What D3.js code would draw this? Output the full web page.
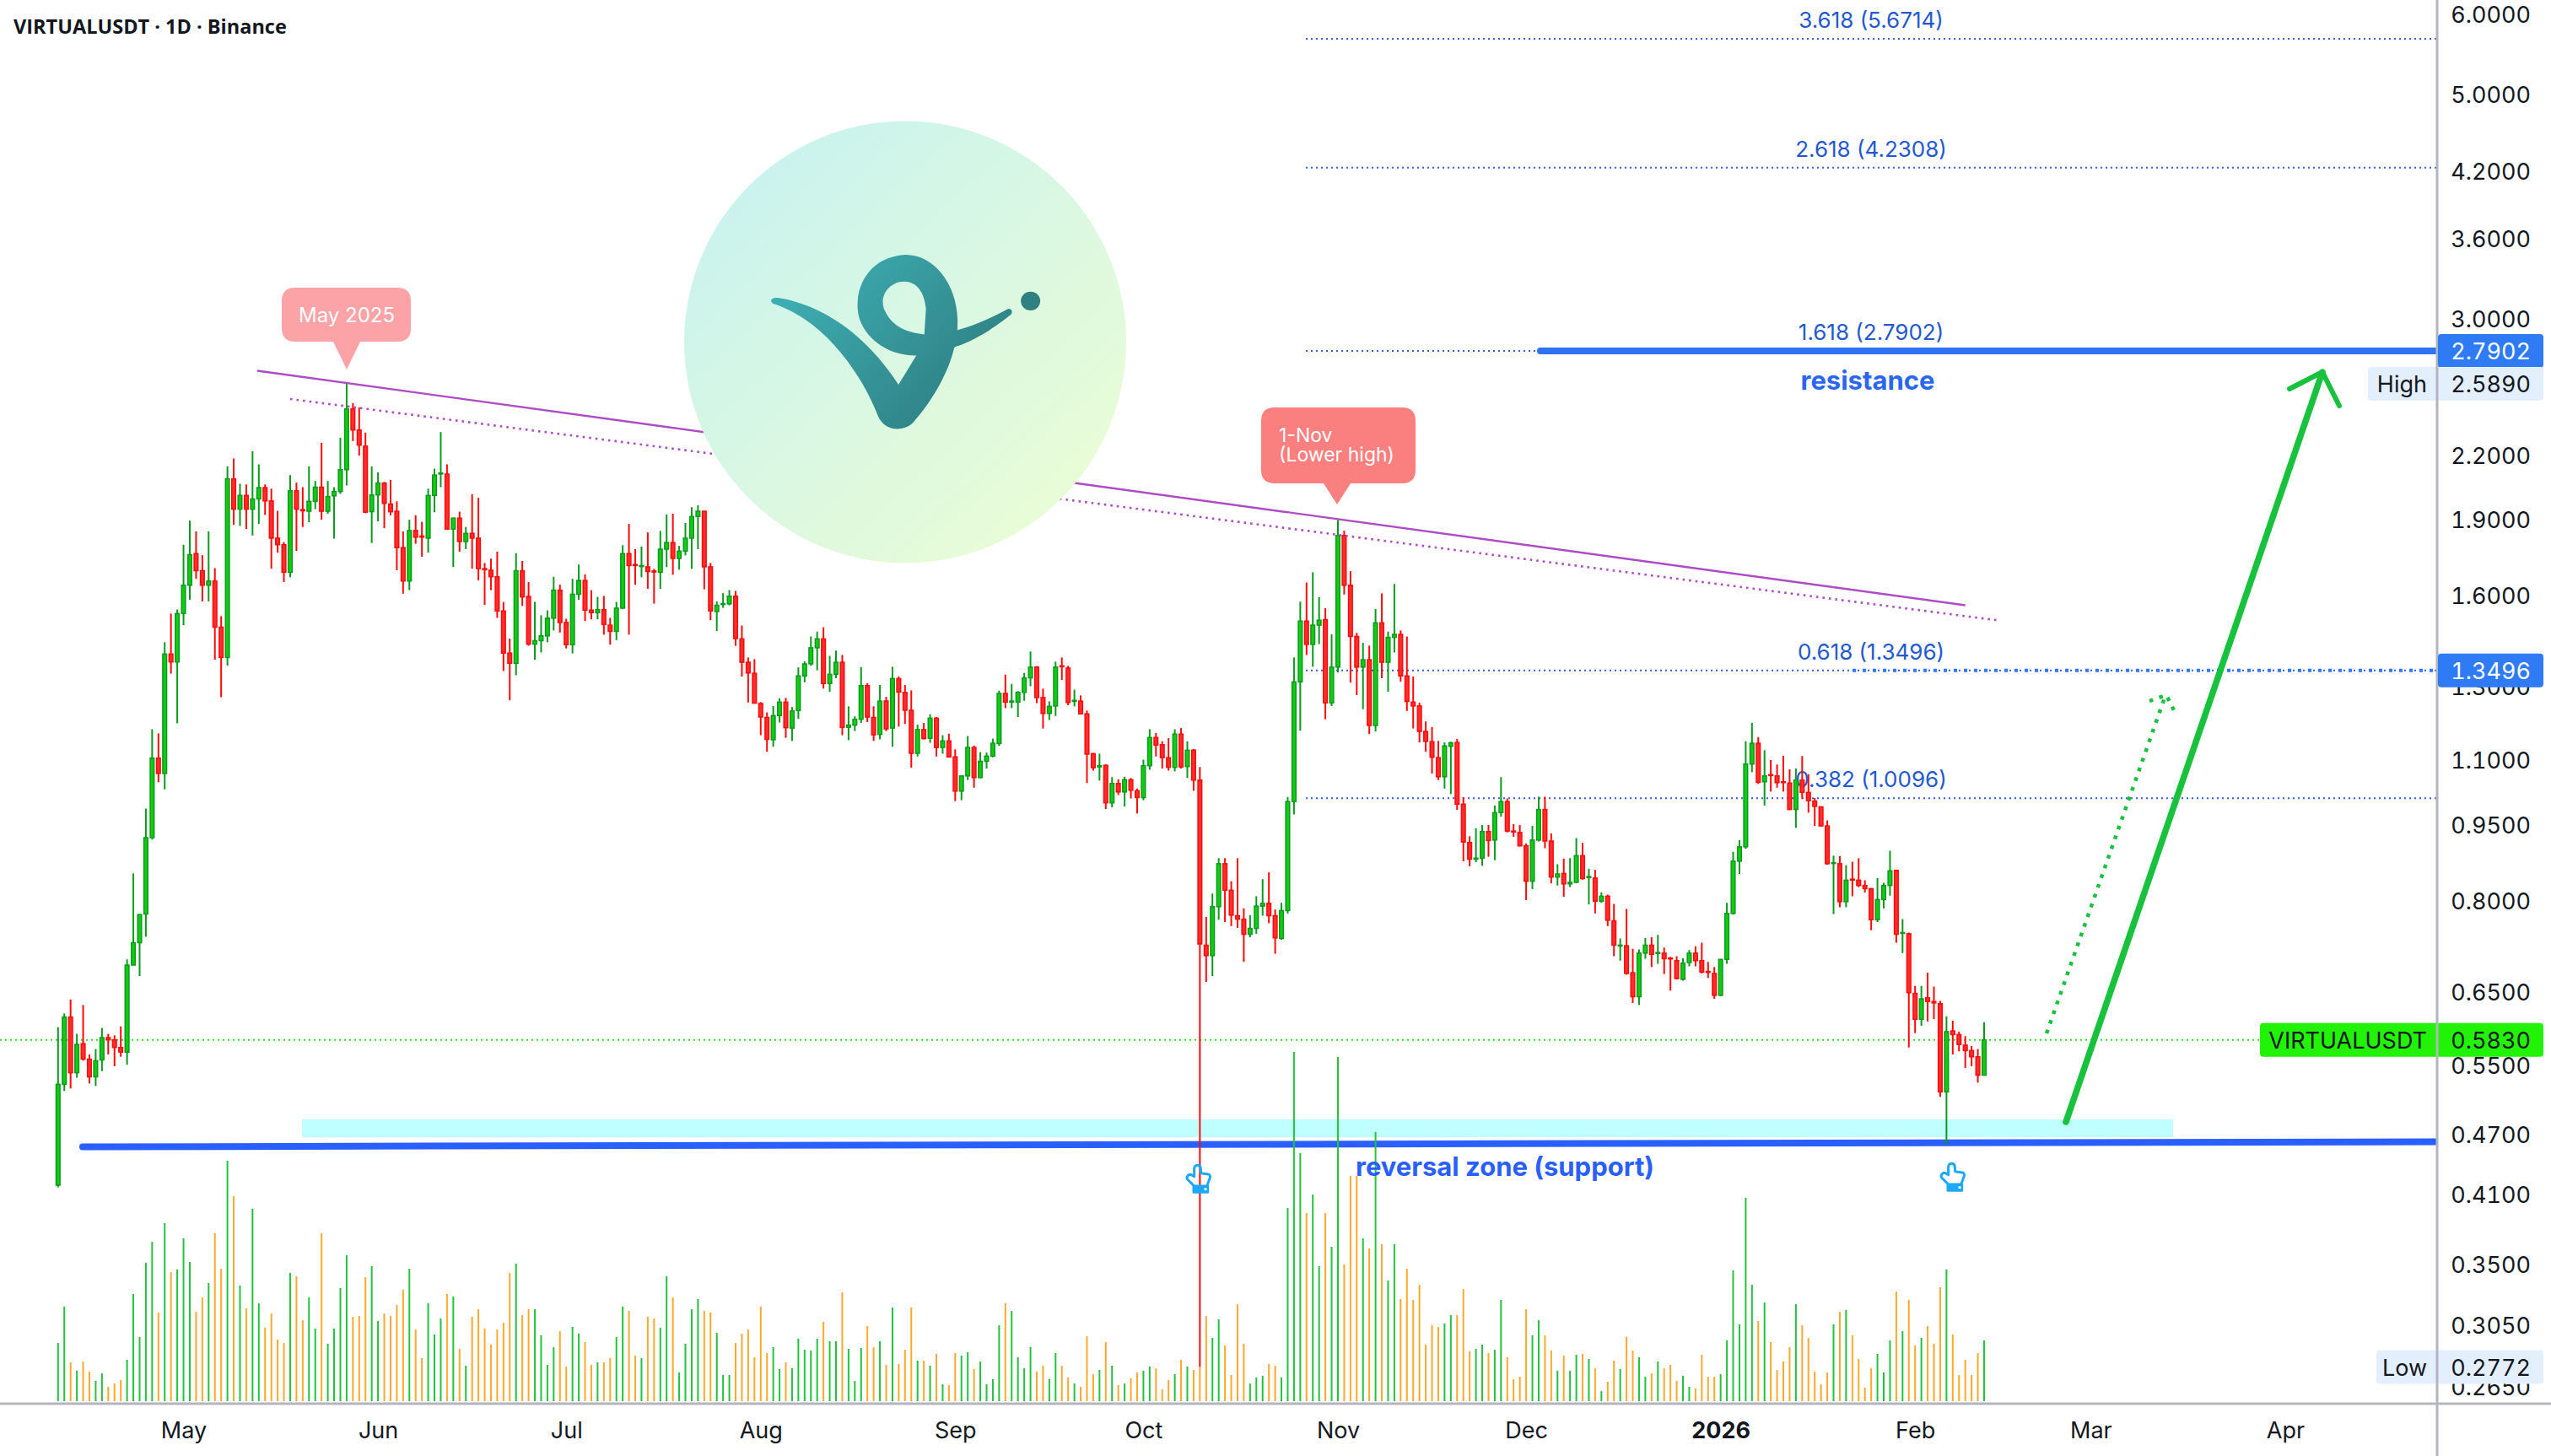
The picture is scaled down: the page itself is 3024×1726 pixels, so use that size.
<!DOCTYPE html>
<html><head><meta charset="utf-8">
<style>html,body{margin:0;padding:0;background:#fff}svg{display:block}text{font-family:Inter,"Liberation Sans",sans-serif}</style>
<script src="https://cdn.jsdelivr.net/npm/d3@7"></script></head><body><svg id="c" width="3024" height="1726"></svg>
<script>
const title = "VIRTUALUSDT · 1D · Binance";
const firstDay = "2025-04-11";
const lastDay = "2026-02-12";
const directions = [
"ggrgrrggrr","rgggggrgrg","ggrrgrrgrg","rggrrrrgrr","ggrggggrrr","ggrrrrgrrg","ggrgrgrrrr","rrrgrrgggg","rrggrrgrrg","grrgrrggrg",
"gggrrgggrr","rrrrggrggg","ggrggrgggr","rgrgrrrgrg","rgrrggrggg","grggggrrgg","rrgrrrgrgr","grrggrrrgr","grrrggrrrr","gggrrggggr",
"ggrggrrrgr","grggrrrrrr","rggrrrggrg","grrrrggrrg","rggrgrgrrg","rrggrgrrrg","grrrrggggg","grgrrrrgrr","rrrgrgrrrr","gggrgrrgrr","rgrrrrrg"].join("");
const highs = [.600,.619,.639,.591,.631,.564,.571,.599,.591,.589,
.601,.700,.851,.776,.986,1.181,1.170,1.439,1.536,1.550,
1.796,1.897,1.851,1.754,1.851,1.703,1.527,2.146,2.185,2.063,
2.060,2.221,2.156,2.060,2.040,1.940,1.807,2.104,2.068,2.047,
2.146,2.076,2.264,2.076,2.047,2.290,2.589,2.478,2.454,2.317,
2.146,2.117,2.071,2.081,1.982,1.851,1.901,1.920,1.892,2.040,
2.135,2.320,2.156,1.910,1.936,1.870,2.014,1.998,1.723,1.740,
1.768,1.577,1.451,1.762,1.731,1.650,1.577,1.530,1.547,1.670,
1.640,1.518,1.662,1.717,1.679,1.620,1.595,1.599,1.521,1.577,
1.794,1.883,1.778,1.789,1.847,1.700,1.853,1.924,1.927,1.791,
1.887,1.956,1.964,1.938,1.723,1.579,1.609,1.620,1.617,1.495,
1.390,1.385,1.256,1.227,1.245,1.267,1.268,1.242,1.359,1.378,
1.458,1.474,1.489,1.395,1.412,1.398,1.244,1.216,1.360,1.311,
1.244,1.306,1.271,1.361,1.331,1.306,1.290,1.193,1.198,1.222,
1.214,1.165,1.169,1.128,1.062,1.163,1.138,1.121,1.120,1.156,
1.289,1.337,1.309,1.288,1.342,1.409,1.363,1.295,1.258,1.377,
1.390,1.364,1.292,1.275,1.232,1.119,1.117,1.090,1.059,1.054,
1.060,1.057,1.032,1.102,1.181,1.171,1.149,1.157,1.181,1.184,
1.149,1.129,1.084,.771,.813,.881,.881,.836,.881,.786,
.774,.808,.840,.853,.784,.796,1.012,1.390,1.578,1.648,
1.687,1.594,1.555,1.465,1.900,1.854,1.691,1.470,1.437,1.428,
1.552,1.608,1.474,1.643,1.478,1.458,1.331,1.254,1.202,1.187,
1.150,1.146,1.148,1.155,1.012,.926,.943,.950,.950,.993,
1.059,1.009,.952,.950,.911,.948,1.013,1.013,.932,.869,
.880,.881,.922,.912,.860,.858,.815,.811,.794,.734,
.785,.717,.716,.735,.736,.740,.719,.704,.705,.702,
.715,.721,.727,.696,.688,.700,.796,.894,.918,1.149,
1.198,1.160,1.126,1.101,1.090,1.112,1.078,1.080,1.111,1.066,
1.010,.990,.960,.886,.885,.867,.874,.881,.838,.823,
.842,.833,.896,.858,.767,.744,.659,.659,.679,.658,
.637,.615,.609,.594,.588,.575,.571,.607];
const bodyTops = [.527,.614,.614,.577,.578,.558,.556,.586,.586,.583,
.573,.691,.727,.775,.923,1.106,1.106,1.401,1.401,1.536,
1.638,1.756,1.760,1.693,1.654,1.654,1.489,2.086,2.086,2.009,
2.009,1.993,2.045,2.045,1.984,1.823,1.796,2.030,2.030,1.945,
1.982,2.047,2.047,2.004,2.027,2.130,2.445,2.445,2.331,2.247,
2.011,2.066,2.066,1.970,1.938,1.784,1.855,1.855,1.832,2.009,
2.104,2.114,2.109,1.908,1.908,1.843,1.843,1.823,1.701,1.695,
1.670,1.545,1.404,1.693,1.693,1.597,1.444,1.460,1.520,1.620,
1.620,1.505,1.605,1.656,1.656,1.548,1.550,1.550,1.496,1.555,
1.760,1.760,1.717,1.713,1.708,1.692,1.778,1.805,1.805,1.770,
1.823,1.915,1.938,1.938,1.708,1.565,1.571,1.598,1.598,1.450,
1.375,1.341,1.252,1.213,1.218,1.256,1.256,1.231,1.333,1.370,
1.421,1.450,1.450,1.338,1.375,1.375,1.192,1.208,1.304,1.304,
1.213,1.259,1.259,1.325,1.325,1.284,1.233,1.180,1.180,1.211,
1.211,1.150,1.150,1.109,1.062,1.133,1.133,1.098,1.111,1.144,
1.281,1.281,1.259,1.284,1.327,1.360,1.360,1.269,1.244,1.360,
1.364,1.357,1.261,1.259,1.223,1.117,1.087,1.088,1.044,1.044,
1.053,1.053,1.027,1.087,1.159,1.159,1.140,1.107,1.168,1.168,
1.126,1.126,1.052,.723,.789,.870,.870,.819,.773,.767,
.751,.790,.795,.795,.773,.782,1.002,1.315,1.510,1.510,
1.496,1.513,1.515,1.360,1.834,1.834,1.638,1.458,1.383,1.383,
1.504,1.504,1.455,1.465,1.465,1.333,1.256,1.245,1.175,1.148,
1.107,1.137,1.145,1.146,.996,.913,.881,.936,.936,.977,
1.002,1.002,.937,.934,.906,.918,.984,.984,.916,.850,
.851,.834,.886,.886,.845,.842,.808,.808,.764,.723,
.722,.679,.710,.723,.723,.711,.710,.702,.698,.694,
.710,.710,.698,.681,.678,.700,.777,.875,.904,1.091,
1.144,1.144,1.062,1.065,1.062,1.048,1.045,1.052,1.052,1.023,
1.003,.990,.948,.872,.870,.838,.840,.838,.828,.822,
.802,.828,.856,.857,.744,.742,.648,.640,.6415,.636,
.633,.594,.595,.590,.576,.569,.561,.583];
const bodyBottoms = [.419,.527,.541,.541,.558,.536,.536,.557,.583,.573,
.567,.567,.691,.727,.776,.923,1.068,1.068,1.376,1.376,
1.536,1.638,1.693,1.638,1.638,1.489,1.390,1.390,1.947,1.947,
1.947,1.947,1.993,1.984,1.823,1.796,1.687,1.687,1.947,1.940,
1.938,1.982,1.938,1.938,2.007,2.027,2.130,2.331,2.252,1.934,
1.936,2.011,1.973,1.936,1.784,1.654,1.654,1.827,1.827,1.823,
2.009,2.109,1.861,1.861,1.809,1.809,1.823,1.701,1.697,1.670,
1.545,1.404,1.372,1.372,1.595,1.433,1.433,1.444,1.460,1.520,
1.505,1.431,1.431,1.605,1.548,1.539,1.539,1.498,1.475,1.475,
1.555,1.713,1.713,1.709,1.690,1.688,1.687,1.778,1.741,1.741,
1.770,1.823,1.915,1.708,1.545,1.543,1.568,1.570,1.451,1.375,
1.342,1.253,1.214,1.154,1.153,1.218,1.185,1.184,1.232,1.333,
1.370,1.421,1.310,1.310,1.338,1.186,1.186,1.192,1.208,1.214,
1.166,1.167,1.182,1.184,1.285,1.233,1.118,1.118,1.156,1.157,
1.133,1.133,1.109,1.026,1.026,1.062,1.058,1.058,1.098,1.111,
1.143,1.256,1.256,1.256,1.284,1.327,1.269,1.224,1.224,1.245,
1.361,1.255,1.258,1.223,1.116,1.082,1.084,.999,.999,1.024,
1.024,1.028,1.011,1.011,1.087,1.139,1.107,1.083,1.083,1.084,
1.085,1.052,.725,.706,.706,.789,.819,.774,.767,.741,
.741,.751,.790,.773,.735,.734,.782,1.002,1.315,1.432,
1.432,1.496,1.254,1.254,1.360,1.638,1.458,1.360,1.360,1.191,
1.191,1.375,1.375,1.455,1.333,1.258,1.245,1.175,1.149,1.108,
1.060,1.060,1.136,.996,.914,.879,.879,.881,.917,.918,
.977,.937,.935,.906,.836,.836,.918,.916,.844,.844,
.831,.831,.834,.841,.843,.799,.799,.765,.723,.722,
.678,.643,.643,.710,.708,.710,.701,.701,.670,.669,
.695,.698,.680,.680,.645,.645,.700,.777,.875,.904,
1.091,1.047,1.048,1.063,1.046,1.046,.984,.984,1.023,1.004,
.991,.948,.870,.871,.798,.798,.838,.828,.822,.766,
.766,.802,.828,.741,.743,.649,.611,.611,.636,.634,
.518,.518,.590,.577,.569,.561,.538,.538];
const lows = [.417,.519,.522,.535,.556,.528,.525,.543,.564,.549,
.561,.551,.691,.674,.737,.919,1.047,1.030,1.340,1.197,
1.496,1.585,1.662,1.579,1.579,1.383,1.270,1.365,1.879,1.874,
1.861,1.834,1.883,1.922,1.701,1.764,1.650,1.668,1.771,1.870,
1.890,1.947,1.901,1.927,1.821,2.016,2.055,2.273,2.200,1.929,
1.803,1.894,1.865,1.920,1.695,1.607,1.620,1.800,1.748,1.764,
1.934,2.047,1.861,1.707,1.768,1.778,1.701,1.656,1.567,1.620,
1.521,1.348,1.261,1.335,1.563,1.428,1.383,1.406,1.439,1.478,
1.471,1.419,1.403,1.585,1.510,1.516,1.516,1.464,1.431,1.446,
1.552,1.464,1.640,1.668,1.625,1.571,1.625,1.707,1.678,1.697,
1.753,1.700,1.778,1.623,1.513,1.476,1.556,1.565,1.427,1.331,
1.255,1.252,1.165,1.122,1.135,1.199,1.158,1.150,1.209,1.314,
1.364,1.350,1.295,1.286,1.326,1.165,1.152,1.176,1.198,1.200,
1.150,1.154,1.176,1.135,1.188,1.195,1.082,1.110,1.154,1.145,
1.110,1.117,1.109,1.003,1.005,1.052,1.034,1.057,1.080,1.108,
1.137,1.239,1.239,1.214,1.260,1.302,1.253,1.183,1.206,1.217,
1.321,1.247,1.244,1.223,1.045,1.075,1.051,.985,.989,1.017,
.991,1.009,.975,1.005,1.077,1.110,1.080,1.075,1.073,1.080,
1.057,1.027,.2772,.665,.674,.766,.762,.755,.752,.696,
.736,.742,.773,.760,.709,.732,.777,.973,1.177,1.398,
1.361,1.433,1.208,1.245,1.344,1.604,1.313,1.276,1.236,1.168,
1.175,1.326,1.286,1.406,1.316,1.231,1.183,1.146,1.122,1.068,
1.052,1.032,1.019,.983,.875,.865,.873,.866,.884,.877,
.968,.934,.925,.905,.801,.821,.915,.901,.832,.828,
.807,.825,.832,.839,.793,.777,.796,.755,.705,.698,
.676,.634,.631,.701,.688,.693,.677,.652,.669,.667,
.689,.689,.678,.671,.640,.644,.693,.775,.850,.900,
1.071,1.043,.993,1.025,1.034,1.025,.983,.944,1.008,.977,
.948,.947,.868,.776,.788,.788,.808,.825,.815,.748,
.762,.786,.809,.727,.710,.573,.592,.602,.608,.611,
.512,.460,.564,.568,.547,.549,.529,.538];
const volumes = [69,112,46,36,47,35,24,33,17,21,
25,49,127,76,164,189,105,211,153,156,
193,165,106,123,140,199,157,285,243,137,
110,228,116,87,104,73,69,152,148,96,
123,86,199,68,86,134,173,100,101,147,
160,95,104,101,114,132,157,85,51,116,
79,98,127,124,62,42,100,109,86,67,
85,93,152,163,102,109,109,78,43,64,
83,41,88,80,70,43,46,46,51,76,
112,107,54,51,100,98,87,148,123,34,
68,109,121,107,105,81,31,31,69,80,
85,52,112,57,64,38,46,39,74,61,
60,74,94,71,71,129,62,24,63,89,
64,71,43,111,44,61,111,48,48,42,
56,20,19,57,54,58,38,47,20,26,
90,116,107,52,39,64,35,42,26,57,
42,28,21,17,77,32,37,70,42,19,
21,27,34,36,41,39,14,25,32,49,
41,37,40,101,75,97,66,31,115,68,
21,28,30,44,42,28,229,414,294,223,
245,160,223,183,408,162,267,267,193,181,
319,186,143,186,121,157,120,138,67,90,
88,92,102,102,133,59,62,67,57,61,
120,52,26,29,109,78,96,78,60,36,
54,36,55,56,50,39,12,23,48,38,
76,60,52,29,33,47,39,43,24,30,
17,15,55,29,29,32,72,155,91,241,
138,95,117,70,37,47,64,115,90,75,
35,20,34,91,106,108,78,50,16,39,
56,34,72,130,83,120,66,75,89,68,
135,156,79,31,49,31,57,72];
const priceTicks = [6,5,4.2,3.6,3,2.2,1.9,1.6,1.3,1.1,.95,.8,.65,.55,.47,.41,.35,.305,.265];
const monthDays = ["2025-05-01","2025-06-01","2025-07-01","2025-08-01","2025-09-01","2025-10-01","2025-11-01","2025-12-01","2026-01-01","2026-02-01","2026-03-01","2026-04-01"];
const monthLabels = ["May","Jun","Jul","Aug","Sep","Oct","Nov","Dec","2026","Feb","Mar","Apr"];
const fibRatios = ["3.618","2.618","1.618","0.618","0.382"];
const fibPrices = [5.6714,4.2308,2.7902,1.3496,1.0096];
const lastPrice = 0.5830, highPrice = 2.5890, lowPrice = 0.2772;
const resistance = 2.7902;
const supportPrices = [0.4572,0.4625];
const trendSolid = [2.667,1.565];
const trendDotted = [2.501,1.513];

const svg = d3.select("#c");
const axisX = 2889, axisY = 1664;
const x = d3.scaleUtc().domain([new Date(firstDay),new Date(lastDay)]).range([68.8,2352]);
const y = d3.scaleLog().domain([6,0.265]).range([16.5,1644]);
const v = d3.scaleLinear().domain([0,414]).range([1661,1247]);
const day = i => new Date(+new Date(firstDay)+i*864e5);
const at = i => x(day(i));
const bars = highs.map((h,i)=>({i,h,t:bodyTops[i],b:bodyBottoms[i],l:lows[i],up:directions[i]==="g",vol:volumes[i]}));

const defs = svg.append("defs");
const g1 = defs.append("linearGradient").attr("id","disc").attr("x1","0.1").attr("y1","0.1").attr("x2","0.85").attr("y2","0.9");
g1.append("stop").attr("offset","0").attr("stop-color","#c9f3ef");
g1.append("stop").attr("offset","1").attr("stop-color","#e9fcd6");
const g2 = defs.append("linearGradient").attr("id","mark").attr("gradientUnits","userSpaceOnUse").attr("x1",450).attr("y1",560).attr("x2",950).attr("y2",1000);
g2.append("stop").attr("offset","0").attr("stop-color","#3eadb2");
g2.append("stop").attr("offset","1").attr("stop-color","#2e7f82");

svg.append("rect").attr("width",3024).attr("height",1726).attr("fill","#fff");

// reversal zone band
svg.append("rect").attr("x",358).attr("y",1327).attr("width",2576-358).attr("height",21).attr("fill","#bfffff");

// last price dotted
svg.append("line").attr("x1",0).attr("x2",2679).attr("y1",y(lastPrice)).attr("y2",y(lastPrice))
 .attr("stroke","#2be01f").attr("stroke-width",2).attr("stroke-dasharray","2 4");

// fib lines
const fibG = svg.append("g");
fibPrices.forEach((p,k)=>{
  fibG.append("line").attr("x1",1548).attr("x2",axisX).attr("y1",y(p)).attr("y2",y(p))
    .attr("stroke","#3160d8").attr("stroke-width",2).attr("stroke-dasharray","2 4");
  fibG.append("text").attr("x",2218).attr("y",y(p)-22.5).attr("text-anchor","middle").attr("dominant-baseline","central")
    .attr("font-size",26).attr("fill","#2458cf").text(`${fibRatios[k]} (${p.toFixed(4)})`);
});
svg.append("line").attr("x1",2196).attr("x2",axisX).attr("y1",y(1.3496)).attr("y2",y(1.3496))
  .attr("stroke","#2f7bf5").attr("stroke-width",4).attr("stroke-dasharray","4 8");
svg.append("line").attr("x1",1826).attr("x2",axisX).attr("y1",y(resistance)).attr("y2",y(resistance))
  .attr("stroke","#2f72f2").attr("stroke-width",8).attr("stroke-linecap","round");

// support line
svg.append("line").attr("x1",98).attr("x2",axisX-3).attr("y1",y(supportPrices[0])).attr("y2",y(supportPrices[1]))
  .attr("stroke","#2a5fff").attr("stroke-width",8).attr("stroke-linecap","round");

// volume
svg.append("g").selectAll("rect").data(bars).join("rect")
  .attr("x",d=>at(d.i)-1).attr("width",2).attr("y",d=>v(d.vol)).attr("height",d=>v(0)-v(d.vol))
  .attr("fill",d=>d.up?"#25c23f":"#fca92e");

// wicks & bodies
const cG = svg.append("g");
cG.selectAll("line").data(bars).join("line")
  .attr("x1",d=>at(d.i)).attr("x2",d=>at(d.i)).attr("y1",d=>y(d.h)).attr("y2",d=>y(d.l))
  .attr("stroke",d=>d.up?"#0a9a1e":"#ff0a0a").attr("stroke-width",2);
cG.selectAll("rect").data(bars).join("rect")
  .attr("x",d=>at(d.i)-2.3).attr("width",4.6).attr("y",d=>y(d.t)).attr("height",d=>Math.max(1,y(d.b)-y(d.t)))
  .attr("fill",d=>d.up?"#12cc12":"#ff2d2d").attr("stroke",d=>d.up?"#0a9a1e":"#ff0a0a").attr("stroke-width",1.5);

// trendlines
const purple="#ad4cc4";
svg.append("line").attr("x1",at(31.76)).attr("x2",at(304)).attr("y1",y(trendSolid[0])).attr("y2",y(trendSolid[1]))
  .attr("stroke",purple).attr("stroke-width",2.4);
svg.append("line").attr("x1",at(37)).attr("x2",at(309)).attr("y1",y(trendDotted[0])).attr("y2",y(trendDotted[1]))
  .attr("stroke",purple).attr("stroke-width",2.6).attr("stroke-dasharray","2.6 5");

// arrows
const green="#18c23c";
const arrow = svg.append("g").attr("fill","none").attr("stroke",green).attr("stroke-linecap","round").attr("stroke-linejoin","round");
arrow.append("path").attr("d","M2449,1330 L2753,441").attr("stroke-width",7.5);
arrow.append("path").attr("d","M2714,461 L2753,441 L2773,481").attr("stroke-width",6);
const dot = svg.append("g").attr("fill","none").attr("stroke",green).attr("stroke-width",4.5).attr("stroke-dasharray","4.5 7.7");
dot.append("path").attr("d","M2426,1225 L2566,827");
dot.append("path").attr("d","M2548,831 L2568,824 L2579,846");

// pointing hands
function hand(cx,cy){
  const h=svg.append("g").attr("transform",`translate(${cx},${cy}) scale(0.3333)`).attr("fill","none").attr("stroke","#1ea8fb").attr("stroke-width",9).attr("stroke-linejoin","round");
  h.append("path").attr("d","M-18,22 L-40,0 C-46,-8 -36,-20 -26,-16 L-16,-10 L-16,-38 C-16,-54 6,-54 7,-38 L8,-22 L34,-18 C42,-16 42,-8 38,0 L30,22");
  h.append("rect").attr("x",-18).attr("y",24).attr("width",50).attr("height",22).attr("fill","#1ea8fb");
  h.append("circle").attr("cx",24).attr("cy",35).attr("r",5).attr("fill","#fff").attr("stroke","none");
}
hand(1421,1398); hand(2315,1396);

// text notes
svg.append("text").attr("x",2214).attr("y",450).attr("text-anchor","middle").attr("dominant-baseline","central")
  .attr("font-size",31).attr("font-weight",700).attr("fill","#2a66f0").text("resistance");
svg.append("text").attr("x",1784).attr("y",1382).attr("text-anchor","middle").attr("dominant-baseline","central")
  .attr("font-size",31).attr("font-weight",700).attr("fill","#2a5fff").text("reversal zone (support)");

// callouts
function callout(x0,x1,y0,y1,tip,tipY,fill){
  const r=16,w=16;
  svg.append("path").attr("fill",fill).attr("d",
   `M${x0+r},${y0} H${x1-r} Q${x1},${y0} ${x1},${y0+r} V${y1-r} Q${x1},${y1} ${x1-r},${y1} H${tip+w} L${tip},${tipY} L${tip-w},${y1} H${x0+r} Q${x0},${y1} ${x0},${y1-r} V${y0+r} Q${x0},${y0} ${x0+r},${y0} Z`);
}
callout(334,487,341,405,411,438,"#fba3a6");
svg.append("text").attr("x",411).attr("y",373).attr("text-anchor","middle").attr("dominant-baseline","central").attr("font-size",24).attr("fill","#fff").text("May 2025");
callout(1495,1678,483,573,1585,598,"#fa8080");
svg.append("text").attr("x",1516).attr("y",515.5).attr("dominant-baseline","central").attr("font-size",23).attr("fill","#fff").text("1-Nov");
svg.append("text").attr("x",1516).attr("y",539).attr("dominant-baseline","central").attr("font-size",23).attr("fill","#fff").text("(Lower high)");

// logo disc
const logo = svg.append("g");
logo.append("circle").attr("cx",1073).attr("cy",405.5).attr("r",262).attr("fill","url(#disc)");
const lm = logo.append("g").attr("transform","translate(780,120) scale(0.3827,0.37)").attr("fill","url(#mark)");
lm.append("path").attr("d","M350,640 Q352,628 370,630 C470,645 620,710 745,908 L800,815 L830,745 L928,733 C980,720 1040,690 1085,665 Q1100,665 1095,682 C1050,720 980,770 918,788 C900,870 850,960 790,1030 C760,1060 700,1060 680,1005 C640,900 560,770 450,695 C420,675 380,655 355,648 Z");
lm.append("path").attr("fill-rule","evenodd").attr("d","M800,815 C720,815 650,770 625,700 C600,620 640,500 765,492 C850,490 925,580 928,700 C928,740 925,770 918,790 Z M762,578 C800,578 825,610 830,665 L825,747 C760,740 720,715 700,665 C685,620 720,578 762,578 Z");
lm.append("circle").attr("cx",1154).attr("cy",640).attr("r",30).attr("fill","#2e8083");

// axes
svg.append("line").attr("x1",0).attr("x2",3024).attr("y1",axisY).attr("y2",axisY).attr("stroke","#b2b5be").attr("stroke-width",3);
svg.append("line").attr("x1",axisX).attr("x2",axisX).attr("y1",0).attr("y2",1726).attr("stroke","#b2b5be").attr("stroke-width",3);

const yAxis = d3.axisRight(y).tickValues(priceTicks).tickFormat(d3.format(".4f")).tickSize(0);
const yG = svg.append("g").attr("transform",`translate(${axisX},0)`).call(yAxis);
yG.select(".domain").remove();
yG.selectAll("text").attr("x",111).attr("dy",null).attr("dominant-baseline","central").attr("text-anchor","end")
  .attr("font-size",27).attr("font-family","Inter").style("font-feature-settings",'"tnum"').attr("fill","#131722");

const xAxis = d3.axisBottom(x).tickValues(monthDays.map(d=>new Date(d))).tickFormat((d,i)=>monthLabels[i]).tickSize(0);
const xG = svg.append("g").attr("transform",`translate(0,${axisY})`).call(xAxis);
xG.select(".domain").remove();
xG.selectAll("text").attr("y",31).attr("dy",null).attr("dominant-baseline","central")
  .attr("font-size",27).attr("font-family","Inter").attr("fill","#131722")
  .attr("font-weight",(d,i)=>monthLabels[i]==="2026"?700:400);

// price labels
function priceLabel(p,txt,x0,fill,color,name){
  const c=y(p), h=40;
  svg.append("rect").attr("x",x0).attr("y",c-h/2).attr("width",3015-x0).attr("height",h).attr("rx",4).attr("fill",fill);
  if(name){
    svg.append("text").attr("x",axisX-12).attr("y",c+1).attr("text-anchor","end").attr("dominant-baseline","central").attr("font-size",27).attr("fill",color).text(name);
    svg.append("line").attr("x1",axisX).attr("x2",axisX).attr("y1",c-h/2).attr("y2",c+h/2).attr("stroke","#b2b5be").attr("stroke-width",3);
  }
  svg.append("text").attr("x",3000).attr("y",c+1).attr("text-anchor","end").attr("dominant-baseline","central").attr("font-size",27)
    .style("font-feature-settings",'"tnum"').attr("fill",color).text(txt);
}
priceLabel(resistance,"2.7902",2890,"#2f7bf5","#fff");
priceLabel(1.3496,"1.3496",2890,"#2f7bf5","#fff");
priceLabel(highPrice,"2.5890",2807,"#e3effd","#131722","High");
priceLabel(lowPrice,"0.2772",2817,"#e3effd","#131722","Low");
priceLabel(lastPrice,"0.5830",2679,"#22f205","#131722","VIRTUALUSDT");

svg.append("text").attr("x",16).attr("y",31).attr("dominant-baseline","central").attr("font-size",23.5)
  .attr("font-weight",700).attr("fill","#131722").style("font-family","'Open Sans'").text(title);
</script></body></html>
